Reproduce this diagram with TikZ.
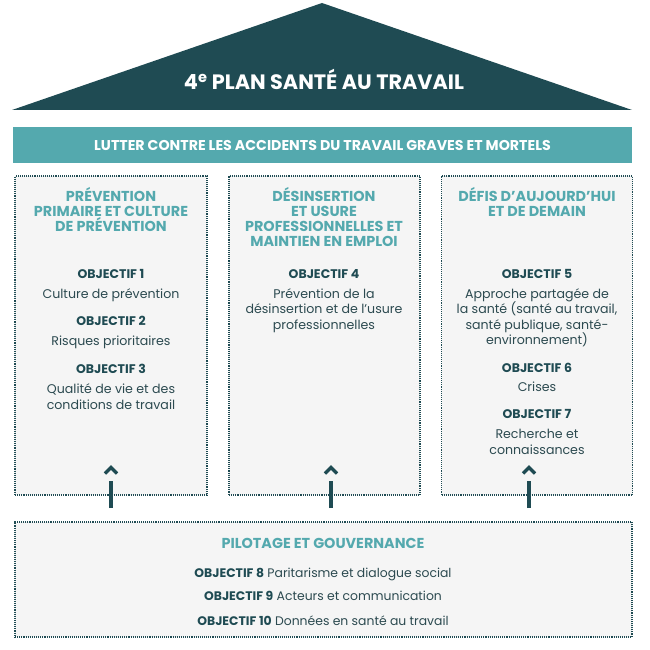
\documentclass[tikz,border=0pt]{standalone}
\usepackage{fontspec}
\setmainfont{Poppins}
\definecolor{roof}{HTML}{1F4B53}
\definecolor{band}{HTML}{54A9AE}
\definecolor{panel}{HTML}{F5F5F5}
\definecolor{ink}{HTML}{2C4A50}
\begin{document}
\begin{tikzpicture}[x=1pt, y=-1pt,
  every node/.style={inner sep=0pt, anchor=base},
  head/.style={text=band, font=\fontsize{14.4}{15}\bfseries},
  obj/.style={text=roof, font=\fontsize{12.5}{13}\bfseries},
  body/.style={text=ink, font=\fontsize{12.6}{14}\selectfont},
  panelbox/.style={draw=roof, fill=panel, line width=1.2pt, dash pattern=on 1.1pt off 1pt, anchor=center},
  pillar/.style={draw=roof, line width=3.4pt},
  chevron/.style={draw=roof, line width=3.4pt}]
  \useasboundingbox (0,0) rectangle (650,650);
  \fill[roof] (12,110) -- (322,3) -- (632,110) -- cycle;
  \node[text=white, font=\fontsize{20.8}{22}\bfseries] (title) at (324,90) {4\textsuperscript{e} PLAN SANTÉ AU TRAVAIL};
  \fill[band] (13,127) rectangle (632,163);
  \node[text=white, font=\fontsize{14.2}{15}\bfseries] (goal) at (322.5,150) {LUTTER CONTRE LES ACCIDENTS DU TRAVAIL GRAVES ET MORTELS};

  \node[panelbox, minimum width=192pt, minimum height=319pt] (colA) at (111,335.5) {};
  \node[panelbox, minimum width=191pt, minimum height=319pt] (colB) at (324.5,335.5) {};
  \node[panelbox, minimum width=191pt, minimum height=319pt] (colC) at (537,335.5) {};
  \node[panelbox, minimum width=617pt, minimum height=115pt] (gov) at (323.5,579.5) {};

  \foreach \t [count=\i] in {PRÉVENTION, PRIMAIRE ET CULTURE, DE PRÉVENTION}
    \node[head] (hA\i) at (111,186+15*\i) {\t};
  \node[obj] (o1) at (111,278) {OBJECTIF 1};
  \node[body] (b1) at (111,298) {Culture de prévention};
  \node[obj] (o2) at (111,325) {OBJECTIF 2};
  \node[body] (b2) at (111,345) {Risques prioritaires};
  \node[obj] (o3) at (111,373) {OBJECTIF 3};
  \foreach \t [count=\i] in {Qualité de vie et des, conditions de travail}
    \node[body] (b3\i) at (111,377+16*\i) {\t};

  \foreach \t [count=\i] in {DÉSINSERTION, ET USURE, PROFESSIONNELLES ET, MAINTIEN EN EMPLOI}
    \node[head] (hB\i) at (324,186+15*\i) {\t};
  \node[obj] (o4) at (324,278) {OBJECTIF 4};
  \foreach \t [count=\i] in {Prévention de la, désinsertion et de l’usure, professionnelles}
    \node[body] (b4\i) at (324,282.5+15.5*\i) {\t};

  \foreach \t [count=\i] in {DÉFIS D’AUJOURD’HUI, ET DE DEMAIN}
    \node[head] (hC\i) at (537,186+15*\i) {\t};
  \node[obj] (o5) at (537,278) {OBJECTIF 5};
  \foreach \t [count=\i] in {Approche partagée de, {la santé (santé au travail,}, {santé publique, santé-}, environnement)}
    \node[body] (b5\i) at (537,282.5+15.5*\i) {\t};
  \node[obj] (o6) at (537,372) {OBJECTIF 6};
  \node[body] (b6) at (537,391) {Crises};
  \node[obj] (o7) at (537,418) {OBJECTIF 7};
  \foreach \t [count=\i] in {Recherche et, connaissances}
    \node[body] (b7\i) at (537,422+16*\i) {\t};

  \node[head] (hD) at (323,548) {PILOTAGE ET GOUVERNANCE};
  \node[body, font=\fontsize{12.4}{14}\selectfont] (b8) at (323,577) {\textbf{\color{roof}OBJECTIF 8} Paritarisme et dialogue social};
  \node[body, font=\fontsize{12.4}{14}\selectfont] (b9) at (323,600) {\textbf{\color{roof}OBJECTIF 9} Acteurs et communication};
  \node[body, font=\fontsize{12.4}{14}\selectfont] (b10) at (323,625) {\textbf{\color{roof}OBJECTIF 10} Données en santé au travail};

  \foreach \x/\n in {111/A, 331/B, 529/C} {
    \coordinate (foot\n) at (\x,508);
    \coordinate (neck\n) at (\x,481);
    \coordinate (tip\n) at (\x,467.5);
    \draw[pillar] (foot\n) -- (neck\n);
    \draw[chevron] (tip\n) ++(-6,6) -- (tip\n) -- ++(6,6);
  }
\end{tikzpicture}
\end{document}
